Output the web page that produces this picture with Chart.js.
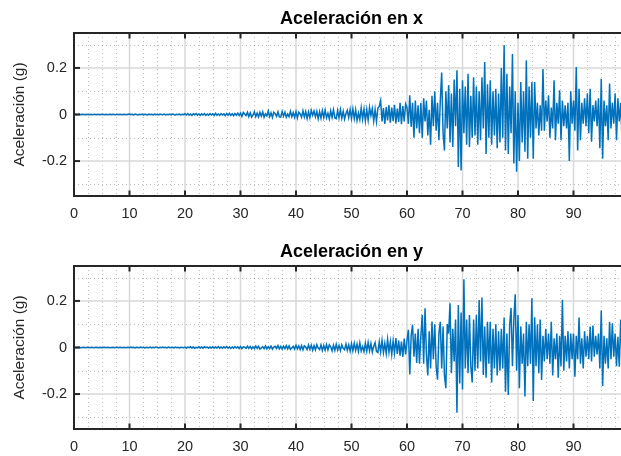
<!DOCTYPE html>
<html>
<head>
<meta charset="utf-8">
<script src="https://cdn.jsdelivr.net/npm/chart.js@4.4.1/dist/chart.umd.min.js"></script>
<style>
	html, body { margin: 0; padding: 0; background: #fff; overflow: hidden; width: 621px; height: 456px; }
	canvas { position: absolute; left: 0; }
	#accX { top: 0; }
	#accY { top: 233px; }
</style>
</head>
<body>
<canvas id="accX" width="703" height="232"></canvas>
<canvas id="accY" width="703" height="232"></canvas>
<script>
(function () {
	'use strict';

	// sampling interval of the records (s)
	var sampleStep = 0.25;

	var timeTicks = [0, 10, 20, 30, 40, 50, 60, 70, 80, 90];
	var timeMinor = [2.5, 5, 7.5, 12.5, 15, 17.5, 22.5, 25, 27.5, 32.5, 35, 37.5, 42.5, 45, 47.5,
		52.5, 55, 57.5, 62.5, 65, 67.5, 72.5, 75, 77.5, 82.5, 85, 87.5, 92.5, 95, 97.5];
	var accTicks = [-0.2, 0, 0.2];
	var accMinor = [-0.3, -0.1, 0.1, 0.3];

	// acceleration in x (g)
	var accelX = [
		0, 0.001, -0.001, 0, 0.001, -0.001, 0.001, 0, -0.001, 0.001,
		0, -0.001, 0.001, -0.001, 0, 0.001, -0.001, 0.001, 0, -0.001,
		0.001, 0, -0.001, 0.001, -0.001, 0, 0.001, -0.001, 0.001, 0,
		-0.001, 0.001, -0.001, 0.001, 0, -0.001, 0.001, 0, -0.001, 0.001,
		0.002, -0.001, 0.001, -0.002, 0.002, 0, -0.002, 0.001, -0.001, 0.002,
		-0.002, 0.001, 0, -0.002, 0.002, -0.001, 0.001, -0.002, 0.002, -0.001,
		0.001, -0.002, 0.002, 0, -0.001, 0.002, -0.002, 0.001, -0.001, 0.002,
		-0.002, 0.002, 0, -0.002, 0.001, -0.001, 0.002, -0.002, 0.001, -0.001,
		0.003, -0.002, 0.004, -0.003, 0.002, -0.004, 0.003, -0.001, 0.004, -0.003,
		0.002, -0.004, 0.003, -0.002, 0.004, -0.004, 0.002, -0.003, 0.004, -0.002,
		0.003, -0.004, 0.005, -0.003, 0.002, -0.004, 0.004, -0.002, 0.003, -0.005,
		0.004, -0.003, 0.005, -0.004, 0.003, -0.005, 0.004, -0.003, 0.006, -0.004,
		0.006, -0.008, 0.009, 0.002, -0.005, 0.01, -0.009, 0.007, -0.011, -0.003,
		0.012, -0.009, 0.006, -0.01, 0.009, -0.007, 0.011, -0.012, 0.003, -0.006,
		0.015, -0.009, 0.007, -0.013, 0.01, 0.004, -0.008, 0.012, -0.01, -0.011,
		0.013, -0.007, 0.01, -0.012, 0.002, -0.009, 0.014, -0.01, 0.008, -0.013,
		0.012, -0.015, 0.01, 0.003, -0.012, 0.016, -0.011, 0.013, -0.017, 0.011,
		-0.014, 0.018, -0.004, 0.015, -0.01, 0.014, -0.018, 0.012, -0.016, 0.017,
		-0.013, 0.019, -0.014, 0.005, -0.019, 0.016, -0.012, 0.02, -0.015, -0.018,
		0.017, -0.014, 0.021, -0.016, 0.014, -0.02, 0.004, 0.018, -0.013, 0.022,
		-0.017, 0.024, -0.018, 0.02, -0.026, 0.006, -0.022, 0.028, -0.02, 0.023,
		-0.027, 0.021, -0.024, 0.03, -0.005, 0.025, -0.028, 0.022, -0.03, 0.027,
		0.035, 0.06, -0.03, 0.028, -0.04, 0.032, -0.025, 0.04, -0.035, 0.03,
		-0.028, 0.042, -0.038, 0.025, -0.032, 0.05, -0.042, 0.036, -0.03, 0.045,
		0.03, -0.04, 0.083, -0.053, 0.05, -0.1, 0.06, -0.06, 0.04, -0.08,
		0.05, -0.1, 0.07, -0.03, 0.06, -0.09, 0.02, -0.13, 0.08, -0.05,
		0.1, -0.07, 0.05, -0.11, 0.06, 0.18, -0.08, -0.155, 0.1, -0.06,
		0.125, -0.12, 0.09, -0.14, 0.15, -0.05, 0.19, -0.225, 0.11, -0.24,
		0.147, -0.08, 0.12, -0.13, 0.175, -0.14, 0.08, -0.1, 0.16, -0.09,
		0.12, -0.13, 0.1, -0.11, 0.16, -0.06, 0.225, -0.17, 0.13, -0.1,
		0.147, -0.13, 0.1, -0.09, 0.11, -0.145, 0.09, -0.12, 0.2, -0.1,
		0.297, -0.155, 0.175, -0.17, 0.12, -0.08, 0.26, -0.21, 0.1, -0.246,
		0.05, -0.2, 0.14, -0.12, 0.1, -0.16, 0.233, -0.19, 0.12, -0.1,
		0.14, -0.19, 0.14, -0.06, 0.05, -0.09, 0.04, -0.07, 0.195, -0.07,
		0.06, -0.03, 0.083, -0.1, 0.03, -0.06, 0.147, -0.11, 0.05, -0.04,
		0.104, -0.11, 0.06, -0.05, 0.04, -0.06, 0.05, -0.2, 0.1, -0.04,
		0.06, -0.07, 0.204, -0.155, 0.11, -0.11, 0.05, -0.04, 0.07, -0.05,
		0.09, -0.08, 0.11, -0.117, 0.04, -0.03, 0.06, -0.05, 0.07, -0.145,
		0.154, -0.19, 0.06, -0.05, 0.04, -0.11, 0.133, -0.06, 0.05, -0.04,
		0.09, -0.11, 0.07, -0.03, 0.05, -0.11, 0.04, -0.07, 0.06, -0.05
	];

	// acceleration in y (g)
	var accelY = [
		0.001, 0, -0.001, 0.001, 0, -0.001, 0, 0.001, -0.001, 0,
		0.001, -0.001, 0, 0.001, -0.001, 0, 0.001, 0, -0.001, 0.001,
		-0.001, 0, 0.001, -0.001, 0.001, 0, -0.001, 0, 0.001, -0.001,
		0, 0.001, -0.001, 0.001, 0, -0.001, 0.001, -0.001, 0, 0.001,
		-0.001, 0.002, -0.001, 0.001, -0.002, 0.001, 0, -0.001, 0.002, -0.001,
		0.001, -0.002, 0.001, 0, -0.001, 0.002, -0.002, 0.001, -0.001, 0.002,
		0, -0.002, 0.001, -0.001, 0.002, -0.001, 0.001, -0.002, 0.002, 0,
		-0.001, 0.001, -0.002, 0.002, -0.001, 0.001, -0.002, 0.001, 0, -0.001,
		0.002, -0.003, 0.002, -0.001, 0.003, -0.002, 0.002, -0.003, 0.001, -0.002,
		0.003, -0.002, 0.002, -0.003, 0.003, -0.001, 0.002, -0.003, 0.002, -0.002,
		0.003, -0.003, 0.002, -0.002, 0.004, -0.003, 0.002, -0.003, 0.003, -0.002,
		0.004, -0.003, 0.003, -0.004, 0.002, -0.003, 0.004, -0.002, 0.003, -0.004,
		0.004, -0.005, 0.003, 0.001, -0.004, 0.006, -0.004, 0.005, -0.006, 0.003,
		-0.005, 0.006, -0.004, 0.005, -0.007, -0.002, 0.004, -0.005, 0.007, -0.006,
		0.004, -0.005, 0.006, -0.007, 0.002, 0.005, -0.004, 0.008, -0.006, 0.005,
		-0.007, 0.006, -0.005, 0.008, -0.006, 0.007, -0.008, -0.002, 0.005, -0.007,
		0.009, -0.006, 0.007, -0.009, 0.008, -0.01, 0.007, 0.002, -0.009, 0.011,
		-0.008, 0.01, -0.012, 0.008, -0.01, 0.012, -0.003, -0.009, 0.011, -0.013,
		0.009, -0.011, 0.013, -0.01, 0.012, 0.003, -0.014, 0.01, -0.012, 0.014,
		-0.011, 0.009, -0.013, 0.012, -0.004, -0.01, 0.015, -0.012, 0.011, -0.015,
		0.016, -0.014, 0.018, -0.012, 0.015, -0.017, 0.02, -0.015, 0.004, -0.018,
		0.019, -0.016, 0.022, -0.014, 0.017, -0.02, 0.006, 0.021, -0.017, -0.022,
		0.024, -0.019, 0.03, -0.022, 0.018, -0.026, 0.035, -0.02, 0.025, -0.03,
		0.028, -0.024, 0.04, -0.028, 0.03, -0.035, 0.025, -0.04, 0.038, -0.03,
		0.03, 0.076, -0.116, 0.05, 0.098, -0.04, 0.06, -0.066, 0.08, -0.07,
		0.05, 0.14, -0.07, 0.168, -0.03, -0.12, 0.07, -0.09, 0.112, -0.05,
		0.1, -0.08, -0.138, 0.06, 0.11, -0.09, 0.09, -0.12, -0.175, 0.1,
		0.06, 0.19, -0.11, 0.08, -0.06, 0.12, -0.28, 0.182, -0.155, 0.15,
		-0.18, 0.293, -0.09, 0.12, -0.11, 0.14, -0.08, -0.15, 0.12, -0.1,
		0.14, -0.09, 0.204, -0.06, 0.215, -0.118, 0.09, -0.13, 0.11, -0.07,
		0.11, -0.15, 0.08, -0.09, 0.1, -0.12, 0.07, -0.1, 0.08, -0.09,
		0.129, -0.19, 0.06, -0.204, 0.1, 0.17, -0.08, 0.12, 0.229, -0.1,
		0.14, -0.175, 0.09, -0.07, 0.06, -0.21, 0.11, -0.08, 0.1, -0.07,
		0.211, -0.23, 0.13, -0.08, 0.1, -0.11, 0.12, -0.14, 0.05, -0.06,
		0.08, -0.05, 0.06, -0.07, 0.11, -0.12, 0.04, -0.05, 0.06, -0.13,
		0.05, -0.08, 0.205, -0.1, 0.05, -0.06, 0.07, -0.09, 0.06, -0.05,
		0.06, -0.126, 0.05, -0.05, 0.129, -0.07, 0.04, -0.09, 0.07, -0.04,
		0.05, -0.05, 0.09, -0.06, 0.094, -0.04, 0.05, -0.03, 0.06, -0.09,
		0.159, -0.165, 0.05, -0.07, 0.04, -0.09, 0.11, -0.05, 0.104, -0.04,
		0.06, -0.08, 0.046, -0.083, 0.12, -0.04, 0.08, -0.07, 0.05, -0.1
	];

	var fontFamily = "'Liberation Sans', Arial, Helvetica, sans-serif";
	var axisColor = '#262626';

	Chart.defaults.font.family = fontFamily;
	Chart.defaults.color = axisColor;

	function toPoints(values) {
		return values.map(function (v, i) {
			return { x: i * sampleStep, y: v };
		});
	}

	function line(ctx, x1, y1, x2, y2) {
		ctx.beginPath();
		ctx.moveTo(x1, y1);
		ctx.lineTo(x2, y2);
		ctx.stroke();
	}

	// grid underneath the trace, box and inward ticks on top
	var matlabAxes = {
		id: 'matlabAxes',
		beforeDatasetsDraw: function (chart) {
			var ctx = chart.ctx, a = chart.chartArea;
			var xs = chart.scales.x, ys = chart.scales.y;
			ctx.save();
			ctx.strokeStyle = 'rgba(38,38,38,0.3)';
			ctx.lineWidth = 1;
			ctx.setLineDash([1, 3]);
			timeMinor.forEach(function (t) {
				var px = Math.round(xs.getPixelForValue(t)) + 0.5;
				line(ctx, px, a.top, px, a.bottom);
			});
			accMinor.forEach(function (g) {
				var py = Math.round(ys.getPixelForValue(g)) + 0.5;
				line(ctx, a.left, py, a.right, py);
			});
			ctx.setLineDash([]);
			ctx.strokeStyle = '#d9d9d9';
			ctx.lineWidth = 1.5;
			timeTicks.forEach(function (t) {
				var px = xs.getPixelForValue(t);
				line(ctx, px, a.top, px, a.bottom);
			});
			accTicks.forEach(function (g) {
				var py = ys.getPixelForValue(g);
				line(ctx, a.left, py, a.right, py);
			});
			ctx.restore();
		},
		afterDatasetsDraw: function (chart) {
			var ctx = chart.ctx, a = chart.chartArea;
			var xs = chart.scales.x, ys = chart.scales.y;
			ctx.save();
			ctx.strokeStyle = axisColor;
			ctx.lineWidth = 2;
			ctx.beginPath();
			ctx.moveTo(a.right + 2, a.top);
			ctx.lineTo(a.left, a.top);
			ctx.lineTo(a.left, a.bottom);
			ctx.lineTo(a.right + 2, a.bottom);
			ctx.stroke();
			timeTicks.forEach(function (t) {
				var px = xs.getPixelForValue(t);
				line(ctx, px, a.bottom, px, a.bottom - 5.5);
				line(ctx, px, a.top, px, a.top + 5.5);
			});
			accTicks.forEach(function (g) {
				var py = ys.getPixelForValue(g);
				line(ctx, a.left, py, a.left + 6, py);
			});
			ctx.restore();
		}
	};

	function makeChart(canvasId, title, values) {
		return new Chart(document.getElementById(canvasId), {
			type: 'line',
			data: {
				datasets: [{
					data: toPoints(values),
					borderColor: '#0072BD',
					borderWidth: 1.5,
					pointRadius: 0,
					tension: 0,
					fill: false
				}]
			},
			options: {
				responsive: false,
				animation: false,
				devicePixelRatio: 1,
				events: [],
				layout: { padding: { left: 0, right: 74, top: 0, bottom: 0 } },
				plugins: {
					legend: { display: false },
					tooltip: { enabled: false },
					title: {
						display: true,
						fullSize: false,
						text: title,
						color: '#000',
						font: { size: 18, weight: 'bold', lineHeight: 1.1 },
						padding: { top: 9.2, bottom: 4 }
					}
				},
				scales: {
					x: {
						type: 'linear',
						min: 0,
						max: 100,
						grid: { display: false, drawTicks: false },
						border: { display: false },
						afterBuildTicks: function (scale) {
							scale.ticks = timeTicks.map(function (v) { return { value: v }; });
						},
						afterFit: function (scale) { scale.height = 36; },
						ticks: {
							color: axisColor,
							padding: 9,
							maxRotation: 0,
							autoSkip: false,
							font: { size: 14.5 },
							callback: function (v) { return String(v); }
						}
					},
					y: {
						type: 'linear',
						min: -0.35,
						max: 0.35,
						grid: { display: false, drawTicks: false },
						border: { display: false },
						afterBuildTicks: function (scale) {
							scale.ticks = accTicks.map(function (v) { return { value: v }; });
						},
						afterFit: function (scale) { scale.width = 74; },
						ticks: {
							color: axisColor,
							padding: 7,
							autoSkip: false,
							font: { size: 14.5 },
							callback: function (v) { return String(v); }
						},
						title: {
							display: true,
							text: 'Aceleración (g)',
							color: axisColor,
							font: { size: 15.5 },
							padding: { top: 10.5, bottom: 0 }
						}
					}
				}
			},
			plugins: [matlabAxes]
		});
	}

	makeChart('accX', 'Aceleración en x', accelX);
	makeChart('accY', 'Aceleración en y', accelY);
})();
</script>
</body>
</html>
